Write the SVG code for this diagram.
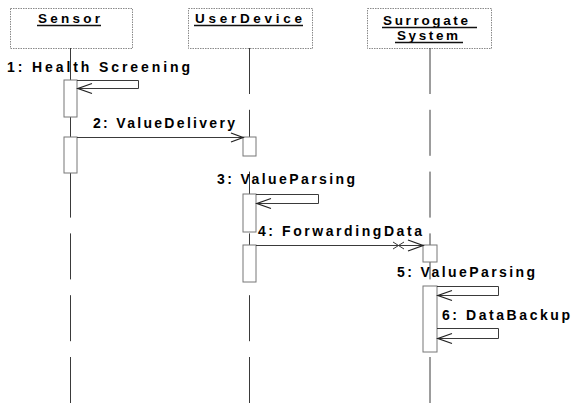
<svg xmlns="http://www.w3.org/2000/svg" width="573" height="403" viewBox="0 0 573 403">
  <style>
    .hdr { fill: #ffffff; stroke: #8a8a8a; stroke-width: 1; stroke-dasharray: 1.5 1; }
    .life { stroke: #3a3a3a; stroke-width: 1; stroke-dasharray: 46 15.8; fill: none; }
    .act { fill: #ffffff; stroke: #777777; stroke-width: 1; }
    .msg { fill: none; stroke: #3a3a3a; stroke-width: 1; }
    .head { fill: none; stroke: #222222; stroke-width: 1.3; }
    .ul { stroke: #111111; stroke-width: 1.4; }
    text { font-family: "Liberation Sans", Arial, sans-serif; font-weight: bold; fill: #000000; }
    .name { font-size: 13.5px; }
    .lbl { font-size: 14px; }
  </style>

  <!-- participants: header box, name and dashed lifeline -->
  <g id="sensor">
    <rect class="hdr" x="10.5" y="8.5" width="122" height="40"/>
    <text class="name" x="38" y="23" textLength="62" lengthAdjust="spacing">Sensor</text>
    <line class="ul" x1="37" y1="25.5" x2="101" y2="25.5"/>
    <line class="life" x1="70.5" y1="48" x2="70.5" y2="403"/>
  </g>
  <g id="user-device">
    <rect class="hdr" x="188.5" y="8.5" width="124" height="40"/>
    <text class="name" x="195" y="23" textLength="107" lengthAdjust="spacing">UserDevice</text>
    <line class="ul" x1="194" y1="25.5" x2="303" y2="25.5"/>
    <line class="life" x1="249.5" y1="48" x2="249.5" y2="403"/>
  </g>
  <g id="surrogate-system">
    <rect class="hdr" x="367.5" y="8.5" width="124" height="40"/>
    <text class="name" x="383" y="25" textLength="85" lengthAdjust="spacing">Surrogate</text>
    <line class="ul" x1="382" y1="27.5" x2="477" y2="27.5"/>
    <text class="name" x="397" y="40" textLength="61" lengthAdjust="spacing">System</text>
    <line class="ul" x1="395" y1="42.5" x2="463" y2="42.5"/>
    <line class="life" x1="430" y1="48" x2="430" y2="403"/>
  </g>

  <!-- activation bars -->
  <g id="activations">
    <rect class="act" x="64" y="80" width="13" height="37"/>
    <rect class="act" x="64" y="137" width="13" height="36"/>
    <rect class="act" x="243" y="137" width="13" height="19"/>
    <rect class="act" x="243" y="194" width="13" height="38"/>
    <rect class="act" x="243" y="245" width="13" height="37"/>
    <rect class="act" x="423" y="245" width="14" height="17"/>
    <rect class="act" x="423" y="286" width="14" height="66"/>
  </g>

  <!-- messages -->
  <g id="connectors">
    <!-- 1: self call on Sensor -->
    <polyline class="msg" points="77,80.5 138.5,80.5 138.5,88.5 77.5,88.5"/>
    <polyline class="head" points="92,83.5 78,88.5 92,93.5"/>
    <!-- 2: Sensor to UserDevice -->
    <line class="msg" x1="77" y1="137.5" x2="243" y2="137.5"/>
    <polyline class="head" points="231,133 243,137.5 231,142"/>
    <!-- 3: self call on UserDevice -->
    <polyline class="msg" points="256,194.5 318.5,194.5 318.5,203.5 256.5,203.5"/>
    <polyline class="head" points="271,198.5 257,203.5 271,208.5"/>
    <!-- 4: UserDevice to Surrogate System -->
    <line class="msg" x1="256" y1="245.5" x2="423" y2="245.5"/>
    <path class="msg" d="M393,242 L404,249 M393,249 L404,242"/>
    <polyline class="head" points="408,240 423,245.5 408,251"/>
    <!-- 5: self call on Surrogate System -->
    <polyline class="msg" points="437,286.5 498.5,286.5 498.5,295.5 437.5,295.5"/>
    <polyline class="head" points="452,290.5 438,295.5 452,300.5"/>
    <!-- 6: self call on Surrogate System -->
    <polyline class="msg" points="437,328.5 498.5,328.5 498.5,338.5 437.5,338.5"/>
    <polyline class="head" points="452,333.5 438,338.5 452,343.5"/>
  </g>

  <!-- message labels -->
  <g id="labels">
    <text class="lbl" x="7" y="72" textLength="183" lengthAdjust="spacing">1: Health Screening</text>
    <text class="lbl" x="93" y="128" textLength="142" lengthAdjust="spacing">2: ValueDelivery</text>
    <text class="lbl" x="217" y="184" textLength="138" lengthAdjust="spacing">3: ValueParsing</text>
    <text class="lbl" x="258" y="236" textLength="164" lengthAdjust="spacing">4: ForwardingData</text>
    <text class="lbl" x="397" y="277" textLength="138" lengthAdjust="spacing">5: ValueParsing</text>
    <text class="lbl" x="442" y="320" textLength="128" lengthAdjust="spacing">6: DataBackup</text>
  </g>
</svg>
